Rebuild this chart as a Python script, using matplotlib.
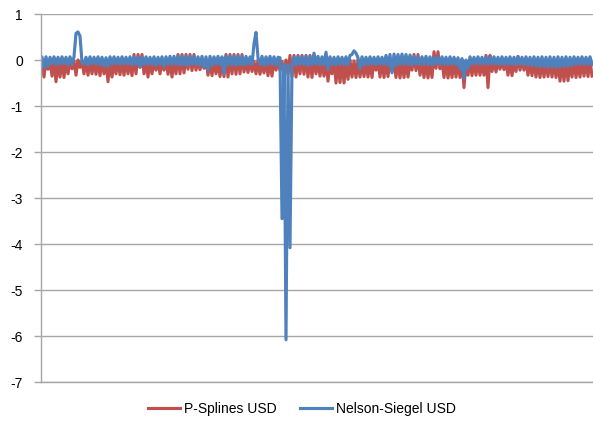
import matplotlib
matplotlib.use("Agg")
import matplotlib.pyplot as plt
import numpy as np

plt.rcParams['font.family'] = ['Liberation Sans', 'DejaVu Sans']

# values, peak / trough alternating, left to right
psplines_usd = [
    -0.05, -0.37, 0.00, -0.20, -0.03, -0.35, 0.00, -0.47, -0.02, -0.37,
    0.00, -0.38, -0.03, -0.30, 0.00, -0.19, -0.02, -0.33, 0.00, -0.16,
    -0.03, -0.30, 0.01, -0.33, -0.02, -0.30, 0.00, -0.31, -0.03, -0.34,
    0.00, -0.30, -0.02, -0.47, 0.01, -0.37, -0.03, -0.30, 0.00, -0.32,
    -0.02, -0.33, 0.00, -0.30, -0.03, -0.34, 0.12, -0.30, 0.12, -0.16,
    0.12, -0.30, -0.02, -0.37, 0.00, -0.30, -0.03, -0.22, 0.00, -0.30,
    -0.02, -0.22, 0.00, -0.31, -0.03, -0.37, 0.00, -0.30, 0.12, -0.30,
    0.12, -0.28, 0.12, -0.20, 0.12, -0.23, 0.12, -0.22, 0.00, -0.21,
    -0.02, -0.18, 0.00, -0.33, -0.03, -0.34, 0.00, -0.30, -0.02, -0.36,
    0.00, -0.36, 0.12, -0.37, 0.12, -0.30, 0.12, -0.31, 0.12, -0.30,
    0.12, -0.26, -0.02, -0.27, 0.00, -0.25, -0.03, -0.30, 0.00, -0.31,
    -0.02, -0.28, 0.00, -0.34, -0.03, -0.35, 0.00, -0.22, -0.02, -0.23,
    -0.03, -0.30, 0.00, -0.31, 0.10, -0.36, 0.10, -0.37, 0.10, -0.30,
    0.10, -0.31, 0.10, -0.37, 0.10, -0.38, 0.10, -0.30, 0.00, -0.35,
    -0.02, -0.35, 0.00, -0.46, -0.03, -0.30, 0.00, -0.50, -0.02, -0.49,
    0.00, -0.50, -0.03, -0.42, 0.00, -0.37, -0.02, -0.38, 0.01, -0.37,
    -0.03, -0.36, 0.00, -0.37, -0.02, -0.38, 0.00, -0.22, -0.03, -0.37,
    0.00, -0.38, -0.02, -0.36, 0.00, -0.24, -0.03, -0.38, 0.00, -0.39,
    -0.02, -0.38, 0.00, -0.37, -0.03, -0.22, 0.12, -0.23, 0.12, -0.33,
    0.00, -0.38, -0.02, -0.39, 0.00, -0.38, 0.18, -0.18, 0.18, -0.19,
    -0.02, -0.38, 0.00, -0.39, -0.03, -0.38, 0.00, -0.37, -0.02, -0.38,
    0.00, -0.60, -0.03, -0.33, 0.00, -0.34, -0.02, -0.33, 0.00, -0.33,
    -0.03, -0.33, 0.10, -0.60, 0.10, -0.25, 0.00, -0.26, -0.02, -0.20,
    0.00, -0.21, -0.03, -0.33, 0.00, -0.34, -0.02, -0.25, 0.08, -0.22,
    -0.02, -0.22, 0.00, -0.33, -0.03, -0.34, 0.00, -0.37, -0.02, -0.38,
    0.00, -0.37, -0.03, -0.36, 0.00, -0.37, -0.02, -0.38, 0.00, -0.46,
    -0.03, -0.46, 0.00, -0.45, -0.02, -0.37, 0.00, -0.38, -0.03, -0.37,
    0.00, -0.35, -0.02, -0.36, 0.00, -0.35,
]

nelson_siegel_usd = [
    0.06, -0.17, 0.07, -0.14, 0.06, -0.08, 0.07, -0.10, 0.06, -0.09,
    0.07, -0.08, 0.06, -0.10, 0.07, -0.09, 0.07, 0.58, 0.61, 0.52,
    -0.05, -0.09, 0.06, -0.10, 0.07, -0.08, 0.06, -0.09, 0.07, -0.10,
    0.06, -0.13, 0.05, -0.14, 0.07, -0.09, 0.07, -0.08, 0.06, -0.10,
    0.07, -0.08, 0.06, -0.09, 0.07, -0.10, 0.06, -0.09, 0.07, -0.15,
    0.06, -0.10, 0.07, -0.09, 0.06, -0.10, 0.07, -0.12, 0.06, -0.09,
    0.07, -0.14, 0.07, -0.09, 0.08, -0.10, 0.08, -0.09, 0.09, -0.11,
    0.08, -0.10, 0.07, -0.12, 0.08, -0.09, 0.08, -0.10, 0.07, -0.11,
    0.08, -0.15, 0.07, -0.22, 0.08, -0.12, 0.07, -0.09, 0.08, -0.10,
    0.07, -0.30, 0.08, -0.11, 0.09, -0.10, 0.08, -0.12, 0.09, -0.10,
    0.08, -0.11, 0.08, -0.09, 0.07, -0.10, 0.35, 0.60, 0.05, -0.10,
    0.08, -0.12, 0.07, -0.09, 0.08, -0.10, 0.07, -0.11, 0.06, 0.05,
    -3.45, -0.10, -6.08, -0.10, -4.08, -0.10, 0.07, -0.11, 0.08, -0.09,
    0.07, -0.10, 0.08, -0.12, 0.07, -0.10, 0.15, -0.09, 0.08, -0.11,
    0.07, -0.10, 0.17, -0.20, 0.07, -0.10, 0.06, -0.11, 0.07, -0.09,
    0.06, -0.10, 0.07, -0.11, 0.10, 0.12, 0.20, 0.15, 0.05, -0.19,
    0.07, -0.11, 0.06, -0.10, 0.07, -0.09, 0.06, -0.10, 0.07, -0.09,
    0.06, -0.10, 0.10, -0.11, 0.12, -0.28, 0.13, -0.12, 0.12, -0.10,
    0.13, -0.09, 0.12, -0.10, 0.11, -0.11, 0.08, -0.09, 0.07, -0.10,
    0.07, -0.09, 0.08, -0.10, 0.07, -0.11, 0.06, -0.08, 0.07, -0.10,
    0.07, -0.09, 0.06, -0.10, 0.07, -0.09, 0.06, -0.10, 0.05, -0.20,
    0.03, -0.40, 0.00, -0.18, 0.07, -0.09, 0.06, -0.08, 0.07, -0.09,
    0.06, -0.08, 0.07, -0.09, 0.06, -0.08, 0.07, -0.09, 0.06, -0.10,
    0.07, -0.09, 0.06, -0.10, 0.07, -0.09, 0.06, -0.10, 0.07, -0.09,
    0.06, -0.10, 0.07, -0.11, 0.06, -0.12, 0.07, -0.13, 0.06, -0.15,
    0.07, -0.14, 0.06, -0.16, 0.07, -0.15, 0.06, -0.16, 0.07, -0.15,
    0.06, -0.14, 0.07, -0.13, 0.06, -0.12, 0.07, -0.10, 0.06, -0.09,
    0.07, -0.10, 0.06, -0.09, 0.07, -0.10,
]

y_ticks = [1, 0, -1, -2, -3, -4, -5, -6, -7]

red = '#C0504D'
blue = '#4F81BD'
grid = '#A6A6A6'

fig = plt.figure(figsize=(5.93, 4.30), dpi=100)
ax = fig.add_axes([41/593, 1-382/430, 552/593, 368/430])

x = np.arange(len(psplines_usd))
ax.plot(x, psplines_usd, color=red, lw=2.25, label='P-Splines USD')
ax.plot(np.arange(len(nelson_siegel_usd)), nelson_siegel_usd, color=blue, lw=2.25,
        label='Nelson-Siegel USD')

ax.set_xlim(-0.5, len(psplines_usd) - 0.5)
ax.set_ylim(-7, 1)
ax.set_yticks(y_ticks)
ax.set_yticklabels([str(t) for t in y_ticks])
ax.set_xticks([])
ax.yaxis.grid(True, color=grid, lw=1.0)
ax.set_axisbelow(True)

for s in ['top', 'right']:
    ax.spines[s].set_visible(False)
for s in ['left', 'bottom']:
    ax.spines[s].set_color(grid)
    ax.spines[s].set_linewidth(1.0)
ax.tick_params(axis='y', direction='out', length=5, width=1.0, color=grid,
               labelsize=10, labelcolor='#000000', pad=8)

fig.legend(loc='center', bbox_to_anchor=(302/593, 1-409/430), ncol=2, frameon=False,
           fontsize=10, handlelength=2.3, handletextpad=0.3, columnspacing=1.65)

plt.savefig('out.png', dpi=100)
